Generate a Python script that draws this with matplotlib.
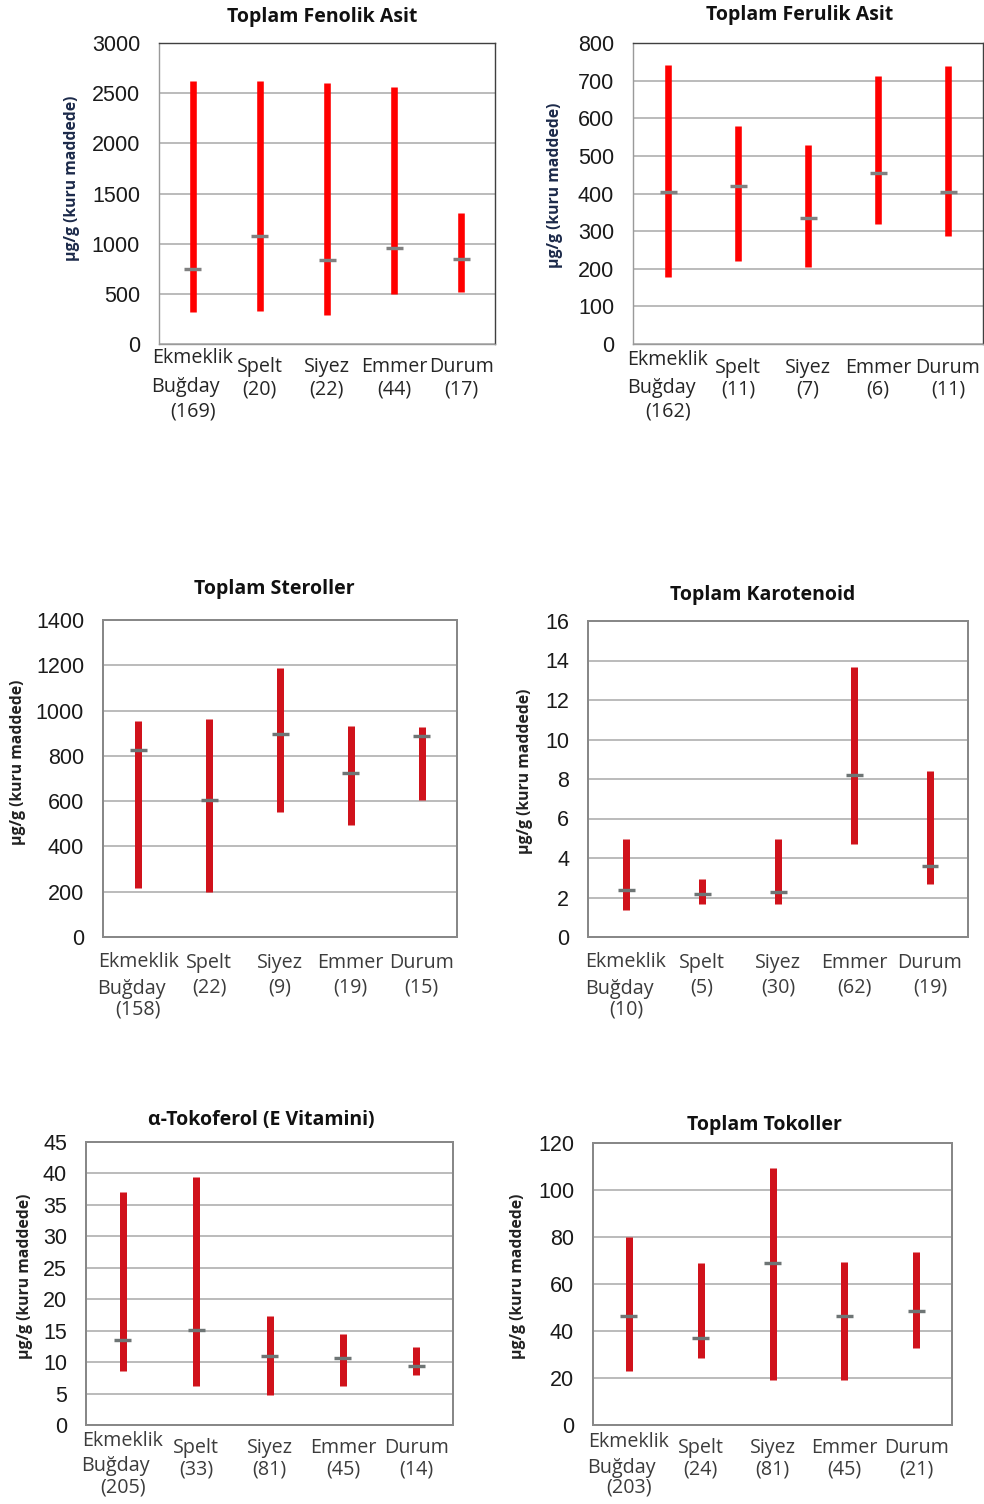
import matplotlib
matplotlib.use("Agg")
import matplotlib.pyplot as plt
import matplotlib.transforms as mtrans
import numpy as np

# ---------------- data ----------------
categories = ["Ekmeklik Buğday", "Spelt", "Siyez", "Emmer", "Durum"]

fenolik_n = [169, 20, 22, 44, 17]
fenolik_min = [315, 326, 289, 499, 522]
fenolik_max = [2621, 2621, 2597, 2558, 1307]
fenolik_mean = [750, 1081, 835, 958, 851]

ferulik_n = [162, 11, 7, 6, 11]
ferulik_min = [178, 221, 205, 319, 286]
ferulik_max = [741, 580, 528, 711, 738]
ferulik_mean = [404, 419, 334, 455, 404]

sterol_n = [158, 22, 9, 19, 15]
sterol_min = [218, 199, 553, 494, 607]
sterol_max = [955, 962, 1188, 934, 928]
sterol_mean = [825, 604, 896, 724, 889]

karoten_n = [10, 5, 30, 62, 19]
karoten_min = [1.35, 1.65, 1.65, 4.7, 2.69]
karoten_max = [4.95, 2.93, 4.95, 13.68, 8.42]
karoten_mean = [2.36, 2.19, 2.26, 8.22, 3.57]

tokoferol_n = [205, 33, 81, 45, 14]
tokoferol_min = [8.6, 6.2, 4.8, 6.2, 7.9]
tokoferol_max = [37.1, 39.5, 17.3, 14.5, 12.4]
tokoferol_mean = [13.5, 15.1, 11.0, 10.6, 9.4]

tokol_n = [203, 24, 81, 45, 21]
tokol_min = [23.1, 28.4, 19.2, 19.2, 32.7]
tokol_max = [79.8, 68.9, 109.5, 69.3, 73.8]
tokol_mean = [46.4, 36.9, 68.9, 46.2, 48.6]

titles = ["Toplam Fenolik Asit", "Toplam Ferulik Asit", "Toplam Steroller",
          "Toplam Karotenoid", "α-Tokoferol (E Vitamini)", "Toplam Tokoller"]
ylabel = "µg/g (kuru maddede)"
ylims = [3000, 800, 1400, 16, 45, 120]
ysteps = [500, 100, 200, 2, 5, 20]

# ---------------- layout (pixels) ----------------
W, H = 984, 1504
DPI = 100
fig = plt.figure(figsize=(W / DPI, H / DPI), dpi=DPI)

panels = [
    dict(box=(159, 43, 495, 344), title_xy=(322, 17), ylab_xy=(72, 178),
         ek=(14, 43, 68), oth=(23, 46), top=True,
         data=(fenolik_min, fenolik_max, fenolik_mean, fenolik_n)),
    dict(box=(633, 43, 983, 344), title_xy=(800, 15), ylab_xy=(555, 185),
         ek=(16, 44, 68), oth=(24, 46), top=True,
         data=(ferulik_min, ferulik_max, ferulik_mean, ferulik_n)),
    dict(box=(103, 620, 457, 937), title_xy=(274, 589), ylab_xy=(18, 762),
         ek=(25, 52, 72), oth=(26, 50), top=False,
         data=(sterol_min, sterol_max, sterol_mean, sterol_n)),
    dict(box=(588, 621, 968, 937), title_xy=(763, 595), ylab_xy=(525, 771),
         ek=(25, 52, 72), oth=(26, 50), top=False,
         data=(karoten_min, karoten_max, karoten_mean, karoten_n)),
    dict(box=(86, 1142, 453, 1425), title_xy=(261, 1120), ylab_xy=(25, 1276),
         ek=(16, 41, 63), oth=(23, 44), top=False,
         data=(tokoferol_min, tokoferol_max, tokoferol_mean, tokoferol_n)),
    dict(box=(593, 1143, 952, 1425), title_xy=(764, 1125), ylab_xy=(518, 1276),
         ek=(17, 43, 63), oth=(23, 44), top=False,
         data=(tokol_min, tokol_max, tokol_mean, tokol_n)),
]

LBL_FONT = "Open Sans"
TICK_FONT = "Liberation Sans"
px2pt = 72.0 / DPI

for i, p in enumerate(panels):
    l, t, r, b = p["box"]
    ax = fig.add_axes([l / W, 1 - b / H, (r - l) / W, (b - t) / H])
    lows, highs, means, ns = p["data"]
    x = np.arange(len(categories)) + 0.5
    top = p["top"]
    bar_c = "#ff0000" if top else "#d0121b"
    mean_c = "#808080" if top else "#6e7575"
    ax.vlines(x, lows, highs, colors=bar_c,
              linewidth=(6.6 if top else 7.0) * px2pt, zorder=3)
    hw = 8.5 / ((r - l) / len(categories))
    ax.hlines(means, x - hw, x + hw, colors=mean_c, linewidth=3.4 * px2pt, zorder=4)

    ax.set_xlim(0, len(categories))
    ax.set_ylim(0, ylims[i])
    ax.set_yticks(np.arange(0, ylims[i] + ysteps[i] / 2, ysteps[i]))
    ax.set_xticks([])
    ax.tick_params(axis="y", length=0, pad=19 * px2pt, labelsize=15.5)
    for tl in ax.get_yticklabels():
        tl.set_fontfamily(TICK_FONT)
        tl.set_color("#1a1a1a")
    ax.grid(axis="y", color="#a6a6a6", linewidth=1.5 * px2pt, zorder=1)
    ax.set_axisbelow(True)
    if top:
        for s in ["top", "right"]:
            ax.spines[s].set_color("#404040")
        for s in ["left", "bottom"]:
            ax.spines[s].set_color("#9a9a9a")
        for s in ax.spines.values():
            s.set_linewidth(1.4 * px2pt)
    else:
        for s in ax.spines.values():
            s.set_color("#888888")
            s.set_linewidth(2.0 * px2pt)

    # title and y label
    tx, ty = p["title_xy"]
    fig.text(tx / W, 1 - ty / H, titles[i], ha="center", va="center",
             fontsize=14, fontweight="bold", fontfamily=LBL_FONT, color="#111111")
    yx, yy = p["ylab_xy"]
    fig.text(yx / W, 1 - yy / H, ylabel, ha="center", va="center", rotation=90,
             fontsize=11.3, fontweight="bold", fontfamily=LBL_FONT,
             color="#1c2a4a" if top else "#222222")

    # category labels
    base = ax.get_xaxis_transform()
    lab_c = "#262626" if top else "#3c3c3c"
    fs = 14.2
    e1, e2, e3 = p["ek"]
    o1, o2 = p["oth"]
    for j, cat in enumerate(categories):
        words = cat.split()
        if len(words) == 2:
            lines = [(words[0], 0, e1), (words[1], -7, e2), ("(%d)" % ns[j], 0, e3)]
        else:
            lines = [(words[0], 0, o1), ("(%d)" % ns[j], 0, o2)]
        for txt, dx, dy in lines:
            tr = mtrans.offset_copy(base, fig=fig, x=dx * px2pt, y=-dy * px2pt, units="points")
            ax.text(x[j], 0, txt, transform=tr, ha="center", va="center",
                    fontsize=fs, fontfamily=LBL_FONT, color=lab_c, clip_on=False)

fig.savefig("out.png", dpi=DPI)
